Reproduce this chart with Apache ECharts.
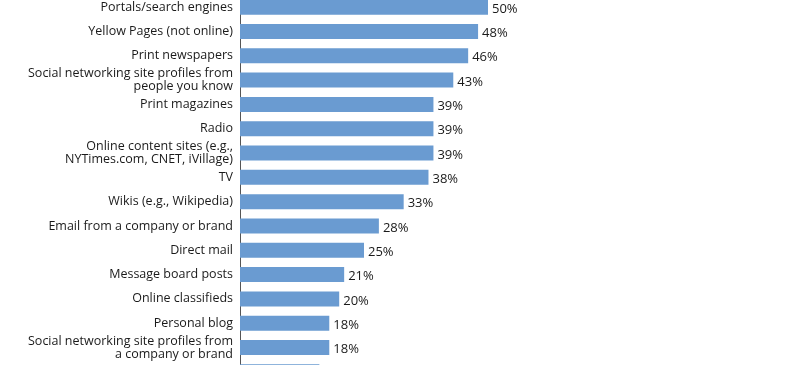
<!DOCTYPE html>
<html><head><meta charset="utf-8">
<script src="https://cdn.jsdelivr.net/npm/echarts@6/dist/echarts.min.js"></script>
<style>html,body{margin:0;padding:0;background:#fff;overflow:hidden;width:800px;height:365px}#c{width:800px;height:389px;margin-top:-5px}</style>
</head><body><div id="c"></div>
<script>
const categories = [
  "Portals/search engines",
  "Yellow Pages (not online)",
  "Print newspapers",
  "Social networking site profiles from\npeople you know",
  "Print magazines",
  "Radio",
  "Online content sites (e.g.,\nNYTimes.com, CNET, iVillage)",
  "TV",
  "Wikis (e.g., Wikipedia)",
  "Email from a company or brand",
  "Direct mail",
  "Message board posts",
  "Online classifieds",
  "Personal blog",
  "Social networking site profiles from\na company or brand",
  ""
];
const values = [50, 48, 46, 43, 39, 39, 39, 38, 33, 28, 25, 21, 20, 18, 18, 16];

const chart = echarts.init(document.getElementById('c'), null, {renderer: 'canvas'});
chart.setOption({
  animation: false,
  grid: {left: 240, right: 64, top: 0, bottom: 0},
  xAxis: {type: 'value', min: 0, max: 100, show: false},
  yAxis: {
    type: 'category', data: categories, inverse: true,
    axisLine: {show: true, lineStyle: {color: '#555', width: 1}},
    axisTick: {show: false},
    axisLabel: {color: '#1a1a1a', fontFamily: 'Open Sans', fontSize: 12.5, lineHeight: 13, margin: 7, align: 'right'}
  },
  series: [{
    type: 'bar', data: values, barWidth: 15,
    itemStyle: {color: '#6a9bd1'},
    label: {show: true, position: 'right', distance: 4, formatter: '{c}%', color: '#1a1a1a', fontFamily: 'Open Sans', fontSize: 13, offset: [0, 2]}
  }]
});
</script></body></html>
